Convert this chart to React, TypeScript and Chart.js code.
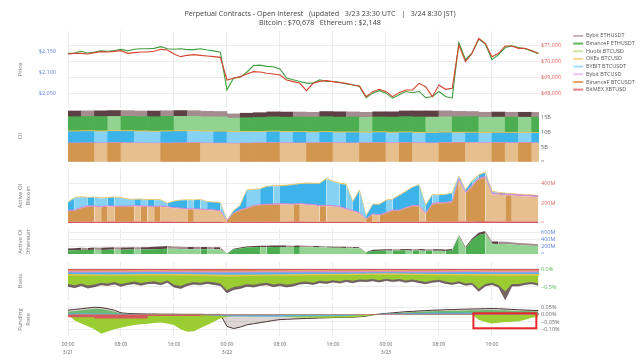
import React, { useEffect, useRef } from 'react';
import { Chart, registerables } from 'chart.js';

Chart.register(...registerables);

const FONT = "'Open Sans', 'DejaVu Sans', sans-serif";
const MINUS = '\u2212';

// ---------- text ----------
const TITLE_LINES = [
  'Perpetual Contracts - Open Interest   (updated   3/23 23:30 UTC   |   3/24 8:30 JST)',
  'Bitcoin : $70,678   Ethereum : $2,148',
];
const DATE_LABELS = ['3/21', '3/22', '3/23'];
const SERIES_NAMES = [
  'Bybit ETHUSDT', 'BinanceF ETHUSDT', 'Huobi BTCUSD', 'OKEx BTCUSD',
  'BYBIT BTCUSDT', 'Bybit BTCUSD', 'BinanceF BTCUSDT', 'BitMEX XBTUSD',
];
const LEGEND_COLORS = [
  'rgba(160,125,130,0.6)', '#5cb85c', 'rgba(200,225,150,0.85)', 'rgba(250,210,130,0.85)',
  'rgba(150,215,245,0.85)', 'rgba(235,185,235,0.85)', '#e9a15c', 'rgba(225,105,110,0.85)',
];

// ---------- tick values ----------
const ETH_TICKS = [2050, 2100, 2150];
const BTC_TICKS = [68000, 69000, 70000, 71000];
const OI_TICKS = [0, 5, 10, 15];
const AOI_BTC_TICKS = [0, 200, 400];
const AOI_ETH_TICKS = [0, 200, 400, 600];
const BASIS_TICKS = [-0.5, 0];
const FUND_TICKS = [-0.1, -0.05, 0, 0.05];

// ---------- time grids (hours since 3/21 00:00 UTC) ----------
const HOURS = Array.from({ length: 72 }, (_, i) => i);
const OI_HOURS = Array.from({ length: 36 }, (_, i) => 2 * i + 1);
const SIX_HOURS = Array.from({ length: 13 }, (_, i) => 6 * i);
const BITMEX_FUNDING_HOURS = [0, 4, 12, 20, 24, 32, 40, 48, 56, 64, 72];
const X_END = 71.1;

// ---------- price ----------
const ETH_PRICE = [
  2146, 2147, 2151, 2147, 2149, 2152, 2151, 2153, 2156, 2152,
  2156, 2157, 2157, 2158, 2162, 2157, 2156, 2157, 2155, 2155,
  2157, 2154, 2152, 2149, 2059, 2087, 2089, 2101, 2117, 2118,
  2115, 2114, 2109, 2087, 2083, 2079, 2075, 2075, 2083, 2079,
  2079, 2077, 2073, 2071, 2067, 2040, 2051, 2057, 2051, 2039,
  2047, 2055, 2052, 2055, 2040, 2043, 2055, 2043, 2039, 2172,
  2131, 2147, 2180, 2168, 2131, 2143, 2160, 2164, 2160, 2157,
  2152, 2145,
];
const BTC_PRICE = [
  70477, 70519, 70519, 70477, 70561, 70624, 70603, 70645, 70687, 70519,
  70561, 70603, 70603, 70645, 70771, 70729, 70477, 70309, 70393, 70435,
  70393, 70351, 70309, 70267, 68839, 68944, 69049, 69217, 69364, 69343,
  69259, 69217, 69154, 68839, 68734, 68629, 68167, 68629, 68750, 68797,
  68734, 68671, 68629, 68524, 68461, 67789, 68104, 68251, 68104, 67789,
  68041, 68209, 68209, 68629, 68419, 67789, 68524, 68251, 68314, 71044,
  69994, 70519, 71464, 71149, 70309, 70519, 70981, 70981, 70834, 70834,
  70687, 70519,
];

// ---------- OI (billions, 2-hour buckets) ----------
const OI_BINANCE_BTC = [6.2, 6.25, 6.2, 6.3, 6.25, 6.2, 6.15, 6.2, 6.25, 6.3, 6.2, 6.15, 6.1, 6.2, 6.25, 6.3, 6.25, 6.2, 6.25, 6.3, 6.25, 6.2, 6.25, 6.3, 6.25, 6.3, 6.25, 6.2, 6.3, 6.35, 6.3, 6.25, 6.3, 6.25, 6.3, 6.25];
const OI_BYBIT_BTCUSD = [0.2, 0.2, 0.21, 0.2, 0.2, 0.2, 0.21, 0.2, 0.2, 0.2, 0.2, 0.2, 0.18, 0.18, 0.19, 0.2, 0.2, 0.2, 0.2, 0.21, 0.2, 0.2, 0.2, 0.2, 0.22, 0.22, 0.22, 0.21, 0.22, 0.22, 0.22, 0.22, 0.23, 0.22, 0.22, 0.22];
const OI_BYBIT_BTCUSDT = [3.7, 3.72, 3.68, 3.7, 3.75, 3.7, 3.65, 3.7, 3.72, 3.68, 3.66, 3.7, 3.62, 3.6, 3.5, 3.55, 3.45, 3.5, 3.35, 3.4, 3.3, 3.35, 3.25, 3.3, 3.2, 3.25, 3.15, 3.2, 3.22, 3.1, 3.15, 3.1, 3.12, 3.15, 3.1, 3.12];
const OI_OKEX = [0.3, 0.3, 0.31, 0.3, 0.3, 0.3, 0.3, 0.31, 0.3, 0.3, 0.3, 0.3, 0.28, 0.28, 0.29, 0.3, 0.3, 0.3, 0.3, 0.3, 0.31, 0.3, 0.3, 0.3, 0.3, 0.3, 0.3, 0.31, 0.3, 0.3, 0.3, 0.3, 0.3, 0.3, 0.3, 0.3];
const OI_BINANCE_ETH = [4.7, 4.72, 4.75, 4.7, 4.72, 4.75, 4.78, 4.8, 4.75, 4.72, 4.7, 4.68, 4.45, 4.5, 4.6, 4.7, 4.75, 4.8, 4.85, 4.9, 4.92, 4.95, 4.9, 4.92, 5.0, 5.05, 5.1, 5.05, 5.0, 5.1, 5.15, 5.05, 5.0, 5.05, 5.0, 5.02];
const OI_BYBIT_ETH = [1.9, 1.85, 1.9, 1.95, 1.9, 1.85, 1.9, 1.88, 1.92, 1.9, 1.85, 1.8, 1.4, 1.5, 1.6, 1.65, 1.7, 1.65, 1.6, 1.7, 1.75, 1.7, 1.65, 1.7, 1.75, 1.9, 2.0, 2.05, 2.0, 1.8, 1.7, 1.65, 1.7, 1.6, 1.65, 1.62];

// ---------- Active OI Bitcoin (millions, hourly) ----------
const AOI_BITMEX = [
  14, 14, 15, 15, 14, 14, 15, 15, 14, 14, 15, 15, 14, 14, 15, 15, 14, 14, 13, 13,
  14, 14, 13, 13, 6, 10, 12, 13, 14, 14, 15, 15, 14, 14, 15, 15, 14, 14, 13, 13,
  14, 14, 13, 13, 12, 8, 10, 11, 12, 13, 13, 14, 14, 14, 12, 14, 15, 15, 15, 16,
  16, 16, 17, 17, 16, 16, 16, 15, 15, 15, 15, 15,
];
const AOI_BINANCE_BTC = [
  105, 111, 136, 151, 151, 146, 154, 151, 151, 151, 154, 151, 151, 149, 151, 146, 136, 131, 126, 126,
  121, 118, 114, 106, 13, 86, 116, 136, 156, 166, 171, 171, 176, 174, 171, 176, 171, 166, 158, 158,
  154, 146, 126, 106, 86, 30, 76, 66, 86, 111, 111, 136, 156, 156, 81, 176, 186, 186, 196, 421,
  286, 356, 426, 446, 276, 271, 266, 266, 261, 256, 254, 248,
];
const AOI_BYBIT_BTCUSD = [
  8, 8, 8, 9, 9, 9, 8, 8, 8, 8, 9, 9, 9, 8, 8, 8, 8, 8, 7, 7,
  7, 7, 7, 7, 3, 5, 6, 7, 8, 8, 8, 9, 9, 9, 9, 9, 9, 9, 9, 9,
  9, 9, 8, 8, 8, 5, 7, 7, 8, 8, 8, 8, 9, 9, 7, 9, 9, 9, 10, 12,
  11, 12, 13, 13, 12, 12, 12, 12, 11, 11, 11, 11,
];
const AOI_BYBIT_BTCUSDT = [
  80, 122, 104, 82, 85, 82, 79, 87, 82, 67, 59, 65, 60, 64, 59, 29, 62, 77, 87, 85,
  95, 75, 76, 77, 2, 22, 42, 177, 162, 157, 177, 179, 177, 184, 192, 197, 207, 212, 220, 270,
  244, 232, 242, 86, 225, 26, 92, 102, 123, 107, 147, 162, 182, 206, 77, 87, 72, 77, 82, 27,
  22, 42, 32, 37, 18, 7, 7, 2, 2, 2, 2, 2,
];
const AOI_OKEX = [
  5, 5, 5, 5, 5, 5, 5, 5, 5, 5, 5, 5, 5, 5, 5, 4, 4, 4, 4, 4,
  4, 4, 4, 4, 2, 3, 4, 5, 5, 5, 5, 5, 6, 6, 6, 6, 6, 6, 6, 6,
  6, 6, 6, 5, 5, 3, 4, 4, 5, 5, 5, 5, 5, 5, 4, 5, 5, 5, 5, 6,
  5, 6, 6, 6, 5, 5, 5, 5, 5, 5, 5, 5,
];

// ---------- Active OI Ethereum (millions, hourly) ----------
const AOE_BINANCE_ETH = [
  95, 105, 110, 112, 115, 112, 118, 120, 118, 120, 125, 122, 125, 130, 135, 145, 140, 135, 132, 130,
  128, 130, 128, 125, 5, 120, 150, 175, 185, 190, 185, 190, 192, 190, 188, 190, 185, 182, 180, 175,
  170, 168, 165, 160, 155, 40, 85, 90, 95, 90, 95, 100, 92, 95, 90, 92, 88, 85, 95, 490,
  160, 380, 520, 560, 280, 275, 270, 260, 245, 235, 225, 215,
];
const AOE_BYBIT_ETH = [
  55, 55, 58, 55, 60, 58, 60, 62, 60, 60, 62, 60, 62, 65, 70, 70, 68, 65, 62, 62,
  60, 60, 58, 58, 5, 20, 25, 30, 35, 35, 38, 40, 40, 42, 40, 40, 38, 35, 35, 30,
  30, 30, 30, 28, 28, 10, 30, 35, 35, 38, 35, 38, 40, 38, 40, 38, 40, 40, 42, 30,
  30, 40, 60, 65, 60, 65, 62, 60, 58, 55, 52, 50,
];

// ---------- Basis (%, levels) ----------
const BASIS_BITMEX = [-0.035, -0.035, -0.03, -0.035, -0.04, -0.035, -0.03, -0.035, -0.03, -0.035, -0.03, -0.035, -0.035];
const BASIS_BINANCE_BTC = [-0.065, -0.07, -0.06, -0.065, -0.075, -0.07, -0.065, -0.065, -0.06, -0.065, -0.06, -0.07, -0.065];
const BASIS_BYBIT_BTCUSD = [-0.095, -0.1, -0.09, -0.095, -0.105, -0.1, -0.095, -0.095, -0.09, -0.095, -0.09, -0.1, -0.095];
const BASIS_BYBIT_BTCUSDT = [-0.14, -0.15, -0.14, -0.14, -0.16, -0.15, -0.14, -0.13, -0.12, -0.13, -0.14, -0.14, -0.14];
const BASIS_OKEX = [-0.18, -0.19, -0.18, -0.18, -0.21, -0.19, -0.18, -0.17, -0.16, -0.17, -0.18, -0.19, -0.18];
const BASIS_HUOBI = [
  -0.42, -0.45, -0.40, -0.46, -0.43, -0.38, -0.40, -0.36, -0.42, -0.38,
  -0.35, -0.39, -0.36, -0.34, -0.38, -0.32, -0.44, -0.47, -0.40, -0.36,
  -0.38, -0.35, -0.37, -0.40, -0.58, -0.50, -0.47, -0.42, -0.44, -0.40,
  -0.38, -0.43, -0.40, -0.44, -0.41, -0.37, -0.35, -0.38, -0.33, -0.35,
  -0.31, -0.34, -0.30, -0.33, -0.29, -0.30, -0.28, -0.31, -0.27, -0.30,
  -0.28, -0.32, -0.29, -0.33, -0.36, -0.32, -0.30, -0.35, -0.38, -0.34,
  -0.40, -0.38, -0.55, -0.42, -0.38, -0.45, -0.62, -0.42, -0.42, -0.38,
  -0.36, -0.40,
];
const BASIS_BYBIT_ETH = [
  -0.48, -0.52, -0.46, -0.53, -0.49, -0.44, -0.46, -0.42, -0.48, -0.43,
  -0.41, -0.45, -0.41, -0.40, -0.44, -0.37, -0.50, -0.54, -0.46, -0.42,
  -0.44, -0.40, -0.43, -0.46, -0.66, -0.57, -0.54, -0.48, -0.50, -0.46,
  -0.44, -0.49, -0.46, -0.50, -0.47, -0.42, -0.40, -0.43, -0.38, -0.40,
  -0.36, -0.39, -0.35, -0.38, -0.34, -0.35, -0.33, -0.36, -0.32, -0.35,
  -0.33, -0.37, -0.34, -0.38, -0.41, -0.37, -0.35, -0.40, -0.43, -0.39,
  -0.45, -0.43, -0.62, -0.47, -0.43, -0.50, -0.85, -0.47, -0.47, -0.43,
  -0.41, -0.45,
];

// ---------- Funding rate (%, levels) ----------
const FUND_BITMEX = [-0.008, -0.018, -0.026, -0.01, -0.004, -0.004, -0.003, 0.004, 0.006, 0.006, 0.006];
const FUND_BYBIT_BTCUSDT = [0.01, 0.008, 0.003, 0.002, -0.012, -0.014, -0.012, -0.01, 0.008, 0.012, 0.014, 0.012, 0.01];
const FUND_BINANCE_ETH = [
  0.020, 0.025, 0.030, 0.035, 0.040, 0.038, 0.030, 0.020, 0.008, 0.005,
  0.004, 0.004, 0.004, 0.003, 0.003, 0.003, 0.003, 0.002, 0.002, 0.002,
  0.002, 0.001, 0.001, 0.001, 0, 0, 0, 0, 0, 0,
  0, 0, 0, 0, 0, 0, 0, 0, 0, 0,
  0, 0, 0, 0, 0, 0, 0, 0.003, 0.006, 0.009,
  0.012, 0.015, 0.017, 0.019, 0.021, 0.023, 0.024, 0.025, 0.026, 0.027,
  0.028, 0.029, 0.030, 0.031, 0.031, 0.030, 0.029, 0.027, 0.025, 0.024,
  0.022, 0.021,
];
const FUND_HUOBI = [
  0, -0.04, -0.06, -0.08, -0.10, -0.13, -0.115, -0.10, -0.09, -0.08,
  -0.07, -0.065, -0.063, -0.058, -0.054, -0.06, -0.07, -0.10, -0.117, -0.113,
  -0.091, -0.07, -0.048, -0.026, -0.015, -0.012, -0.012, -0.012, -0.012, -0.012,
  -0.012, -0.012, -0.012, -0.015, -0.018, -0.02, -0.02, -0.02, -0.022, -0.022,
  -0.022, -0.02, -0.02, -0.018, -0.015, -0.01, -0.005, -0.003, 0, 0,
  0, 0, 0, 0, 0, 0, 0, 0, 0, 0,
  0, 0, -0.035, -0.05, -0.06, -0.055, -0.05, -0.048, -0.045, -0.035,
  -0.022, -0.014,
];
const FUND_BYBIT_ETH = [
  0.030, 0.035, 0.040, 0.045, 0.050, 0.048, 0.040, 0.030, 0.012, 0.008,
  0.006, 0.005, 0.004, 0.004, 0.003, 0.003, 0.003, 0.002, 0.002, 0.002,
  0.002, 0.001, 0.001, 0.001, -0.080, -0.095, -0.085, -0.070, -0.062, -0.055,
  -0.048, -0.040, -0.034, -0.032, -0.030, -0.028, -0.026, -0.025, -0.023, -0.022,
  -0.020, -0.019, -0.018, -0.017, -0.015, -0.010, -0.002, 0.004, 0.008, 0.012,
  0.016, 0.020, 0.022, 0.025, 0.027, 0.030, 0.031, 0.033, 0.034, 0.036,
  0.037, 0.038, 0.039, 0.040, 0.041, 0.040, 0.038, 0.035, 0.033, 0.031,
  0.029, 0.028,
];
// highlighted window (hours, funding %)
const HIGHLIGHT_HOURS = [61.2, 70.7];
const HIGHLIGHT_RATES = [0.009, -0.093];

// ---------- colours ----------
const C = {
  bybitEth: ['#5c4044', '#a48c8f'],
  binanceEth: ['#4cae50', '#92d392'],
  bybitBtcusdt: ['#3cb4ea', '#86d2f4'],
  binanceBtc: ['#d3964e', '#e7bf8f'],
  huobi: '#9acd32',
  okex: '#f0c24b',
  bybitBtcusd: '#d88ad8',
  bitmex: '#d9585d',
};

// ---------- helpers ----------
const xy = (xs: number[], ys: number[]) => ys.map((y, i) => ({ x: xs[i], y }));
const noPad = (s: any) => { s.paddingTop = 0; s.paddingBottom = 0; s.paddingLeft = 0; s.paddingRight = 0; };
const tickFont = { family: FONT, size: 5.5 };
const signed = (v: number, d: number) => (v < 0 ? MINUS : '') + Math.abs(v).toFixed(d);
const usd = (v: number) => '$' + Math.round(v).toLocaleString('en-US');
const mLabel = (v: number) => (v === 0 ? '0' : `${v}M`);
const fixedTicks = (vals: number[]) => (s: any) => { s.ticks = vals.map((value) => ({ value })); };

function timeLabel(v: number) {
  const h = Math.round(v) % 24;
  const t = `${String(h).padStart(2, '0')}:00`;
  return h === 0 ? [t, DATE_LABELS[Math.floor(v / 24)]] : t;
}

function xScale(show: boolean, stacked = false) {
  return {
    type: 'linear', position: 'bottom', min: 0, max: X_END, offset: false, stacked,
    grid: { color: '#ececec', drawTicks: false, offset: false },
    border: { display: false },
    ticks: {
      display: show, stepSize: 8, includeBounds: false, autoSkip: false, maxRotation: 0, padding: 5,
      color: '#666', font: { family: FONT, size: 5, lineHeight: 1.6 },
      callback: (v: any) => timeLabel(Number(v)),
    },
    afterFit: (s: any) => { s.height = show ? 24 : 0; noPad(s); },
  };
}

function leftScale(title: string | string[], extra: any = {}) {
  return {
    position: 'left',
    title: {
      display: true, text: title, color: '#7a7a7a',
      font: { family: FONT, size: 6, lineHeight: 1.34 }, padding: { top: 16, bottom: 0 },
    },
    grid: { display: false }, border: { display: false },
    ticks: { display: false },
    afterFit: (s: any) => { s.width = 68; noPad(s); },
    ...extra,
  };
}

function rightScale(o: { min: number; max: number; ticks: number[]; color: string; fmt: (v: number) => string; width?: number; stacked?: boolean }) {
  return {
    position: 'right', min: o.min, max: o.max, stacked: !!o.stacked,
    grid: { color: '#ececec', drawTicks: false }, border: { display: false },
    ticks: {
      autoSkip: false, padding: 2,
      color: o.color, font: tickFont, callback: (v: any) => o.fmt(Number(v)),
    },
    afterBuildTicks: fixedTicks(o.ticks),
    afterFit: (s: any) => { s.width = o.width ?? 101; noPad(s); },
  };
}

const shadeSeg = (dark: string, light: string) => ({
  backgroundColor: (c: any) => (c.p1 && c.p0 && c.p1.parsed && c.p0.parsed && c.p1.parsed.y < c.p0.parsed.y ? light : dark),
});
const shadeBar = (dark: string, light: string) => (c: any) => {
  const d = c.dataset.data; const i = c.dataIndex;
  if (!d[i]) return dark;
  const prev = i > 0 ? d[i - 1].y : d[i].y;
  return d[i].y >= prev ? dark : light;
};

function area(label: string, xs: number[], ys: number[], dark: string, light: string, fill: any, extra: any = {}) {
  return {
    label, data: xy(xs, ys), yAxisID: 'yr', fill, backgroundColor: dark,
    borderWidth: 0, pointRadius: 0, segment: shadeSeg(dark, light), ...extra,
  };
}
function flat(label: string, xs: number[], ys: number[], color: string, extra: any = {}) {
  return { label, data: xy(xs, ys), yAxisID: 'yr', fill: 'origin', backgroundColor: color, borderWidth: 0, pointRadius: 0, ...extra };
}

function baseOptions(scales: any, plugins: any = {}) {
  return {
    responsive: false, animation: false, devicePixelRatio: 1, events: [],
    layout: { padding: 0 },
    elements: { point: { radius: 0 }, line: { tension: 0 } },
    plugins: { legend: { display: false }, tooltip: { enabled: false }, title: { display: false }, ...plugins },
    scales,
  };
}

const highlightPlugin = {
  id: 'highlightBox',
  afterDatasetsDraw(chart: any) {
    const { ctx, scales } = chart;
    const x0 = scales.x.getPixelForValue(HIGHLIGHT_HOURS[0]);
    const x1 = scales.x.getPixelForValue(HIGHLIGHT_HOURS[1]);
    const y0 = scales.yr.getPixelForValue(HIGHLIGHT_RATES[0]);
    const y1 = scales.yr.getPixelForValue(HIGHLIGHT_RATES[1]);
    ctx.save();
    ctx.strokeStyle = '#e8262b';
    ctx.lineWidth = 2;
    ctx.strokeRect(x0, y0, x1 - x0, y1 - y0);
    ctx.restore();
  },
};

const PANELS = [
  { top: 0, height: 108 },
  { top: 110, height: 52 },
  { top: 169, height: 54 },
  { top: 229, height: 25 },
  { top: 262, height: 38 },
  { top: 303, height: 57 },
];

function buildConfigs(): any[] {
  const price = {
    type: 'line',
    data: {
      datasets: [
        { label: 'Bitcoin', data: xy(HOURS, BTC_PRICE), yAxisID: 'yr', borderColor: '#d4442e', borderWidth: 1.1, pointRadius: 0, fill: false },
        { label: 'Ethereum', data: xy(HOURS, ETH_PRICE), yAxisID: 'yl', borderColor: '#3f9f3f', borderWidth: 1.1, pointRadius: 0, fill: false },
      ],
    },
    options: baseOptions(
      {
        x: xScale(false),
        yl: leftScale('Price', {
          min: 2015.5, max: 2199.5,
          ticks: { display: true, autoSkip: false, padding: 4, color: '#5b84d6', font: tickFont, callback: (v: any) => usd(Number(v)) },
          afterBuildTicks: fixedTicks(ETH_TICKS),
        }),
        yr: rightScale({ min: 67074, max: 71926, ticks: BTC_TICKS, color: '#e05a5a', fmt: usd, width: 32 }),
      },
      {
        title: {
          display: true, text: TITLE_LINES, color: '#444',
          font: { family: FONT, size: 7.2, weight: 'normal', lineHeight: 9.3 / 7.2 },
          padding: { top: 9.35, bottom: 3.05 },
        },
        legend: {
          display: true, position: 'right', align: 'start', fullSize: false, maxWidth: 69,
          labels: {
            boxWidth: 10, boxHeight: 2, padding: 2.17, color: '#555', font: { family: FONT, size: 5.5 },
            generateLabels: () => SERIES_NAMES.map((t, i) => ({
              text: t, fillStyle: LEGEND_COLORS[i], strokeStyle: LEGEND_COLORS[i], lineWidth: 0, hidden: false, fontColor: '#555',
            })),
          },
        },
      },
    ),
  };

  const oiStack = [
    ['BinanceF BTCUSDT', OI_BINANCE_BTC, C.binanceBtc[0], C.binanceBtc[1]],
    ['Bybit BTCUSD', OI_BYBIT_BTCUSD, C.bybitBtcusd, C.bybitBtcusd],
    ['BYBIT BTCUSDT', OI_BYBIT_BTCUSDT, C.bybitBtcusdt[0], C.bybitBtcusdt[1]],
    ['OKEx BTCUSD', OI_OKEX, C.okex, C.okex],
    ['BinanceF ETHUSDT', OI_BINANCE_ETH, C.binanceEth[0], C.binanceEth[1]],
    ['Bybit ETHUSDT', OI_BYBIT_ETH, C.bybitEth[0], C.bybitEth[1]],
  ] as const;
  const oi = {
    type: 'bar',
    data: {
      datasets: oiStack.map(([label, vals, dark, light]) => ({
        label, data: xy(OI_HOURS, vals as any), yAxisID: 'yr',
        backgroundColor: shadeBar(dark as string, light as string), borderWidth: 0,
        barPercentage: 1, categoryPercentage: 1,
      })),
    },
    options: baseOptions({
      x: xScale(false, true),
      yl: leftScale('OI'),
      yr: rightScale({ min: 0, max: 17.33, ticks: OI_TICKS, color: '#666', fmt: (v) => (v === 0 ? '0' : `${v}B`), stacked: true }),
    }),
  };

  const aoiBtc = {
    type: 'line',
    data: {
      datasets: [
        area('BitMEX XBTUSD', HOURS, AOI_BITMEX, C.bitmex, C.bitmex, 'origin'),
        area('BinanceF BTCUSDT', HOURS, AOI_BINANCE_BTC, C.binanceBtc[0], C.binanceBtc[1], '-1'),
        area('Bybit BTCUSD', HOURS, AOI_BYBIT_BTCUSD, C.bybitBtcusd, C.bybitBtcusd, '-1', { borderWidth: 0.8, borderColor: '#cf7fd6' }),
        area('BYBIT BTCUSDT', HOURS, AOI_BYBIT_BTCUSDT, C.bybitBtcusdt[0], C.bybitBtcusdt[1], '-1'),
        area('OKEx BTCUSD', HOURS, AOI_OKEX, C.okex, C.okex, '-1', { borderWidth: 0.8, borderColor: '#e7c25a' }),
      ],
    },
    options: baseOptions({
      x: xScale(false),
      yl: leftScale(['Active OI', 'Bitcoin']),
      yr: rightScale({ min: 0, max: 551, ticks: AOI_BTC_TICKS, color: '#e06a6a', fmt: mLabel, stacked: true }),
    }),
  };

  const aoiEth = {
    type: 'line',
    data: {
      datasets: [
        area('BinanceF ETHUSDT', HOURS, AOE_BINANCE_ETH, C.binanceEth[0], C.binanceEth[1], 'origin'),
        area('Bybit ETHUSDT', HOURS, AOE_BYBIT_ETH, C.bybitEth[0], C.bybitEth[1], '-1'),
      ],
    },
    options: baseOptions({
      x: xScale(false),
      yl: leftScale(['Active OI', 'Ethereum']),
      yr: rightScale({ min: 0, max: 682, ticks: AOI_ETH_TICKS, color: '#5b84d6', fmt: mLabel, stacked: true }),
    }),
  };

  const basis = {
    type: 'line',
    data: {
      datasets: [
        flat('BitMEX XBTUSD', SIX_HOURS, BASIS_BITMEX, C.bitmex),
        flat('BinanceF BTCUSDT', SIX_HOURS, BASIS_BINANCE_BTC, '#e8a868'),
        flat('Bybit BTCUSD', SIX_HOURS, BASIS_BYBIT_BTCUSD, C.bybitBtcusd),
        flat('BYBIT BTCUSDT', SIX_HOURS, BASIS_BYBIT_BTCUSDT, '#4db6ec'),
        flat('OKEx BTCUSD', SIX_HOURS, BASIS_OKEX, C.okex),
        flat('Huobi BTCUSD', HOURS, BASIS_HUOBI, C.huobi),
        flat('Bybit ETHUSDT', HOURS, BASIS_BYBIT_ETH, 'rgba(95,75,75,0.85)', { borderWidth: 0.6, borderColor: '#4a3434' }),
      ],
    },
    options: baseOptions({
      x: xScale(false),
      yl: leftScale('Basis'),
      yr: rightScale({ min: -0.861, max: 0.194, ticks: BASIS_TICKS, color: '#55b555', fmt: (v) => `${signed(v, 1)}%` }),
    }),
  };

  const funding = {
    type: 'line',
    data: {
      datasets: [
        flat('BitMEX XBTUSD', BITMEX_FUNDING_HOURS, FUND_BITMEX, C.bitmex, { stepped: 'after' }),
        flat('BYBIT BTCUSDT', SIX_HOURS, FUND_BYBIT_BTCUSDT, 'rgba(80,180,235,0.9)'),
        flat('BinanceF ETHUSDT', HOURS, FUND_BINANCE_ETH, 'rgba(90,180,90,0.85)'),
        flat('Huobi BTCUSD', HOURS, FUND_HUOBI, C.huobi),
        flat('Bybit ETHUSDT', HOURS, FUND_BYBIT_ETH, 'rgba(160,135,135,0.35)', { borderWidth: 1, borderColor: '#4a3434' }),
      ],
    },
    options: baseOptions({
      x: xScale(true),
      yl: leftScale(['Funding', 'Rate']),
      yr: rightScale({ min: -0.1456, max: 0.0789, ticks: FUND_TICKS, color: '#666', fmt: (v) => `${signed(v, 2)}%` }),
    }),
    plugins: [highlightPlugin],
  };

  return [price, oi, aoiBtc, aoiEth, basis, funding];
}

export default function App() {
  const canvases = useRef<(HTMLCanvasElement | null)[]>([]);
  useEffect(() => {
    const configs = buildConfigs();
    const charts = configs.map((cfg, i) => new Chart(canvases.current[i] as HTMLCanvasElement, cfg));
    return () => charts.forEach((c) => c.destroy());
  }, []);
  return (
    <div style={{ position: 'fixed', left: 0, top: 0, width: 640, height: 360, background: '#fff', overflow: 'hidden' }}>
      {PANELS.map((p, i) => (
        <canvas
          key={i}
          ref={(el) => { canvases.current[i] = el; }}
          width={640}
          height={p.height}
          style={{ position: 'absolute', left: 0, top: p.top, width: 640, height: p.height }}
        />
      ))}
    </div>
  );
}
